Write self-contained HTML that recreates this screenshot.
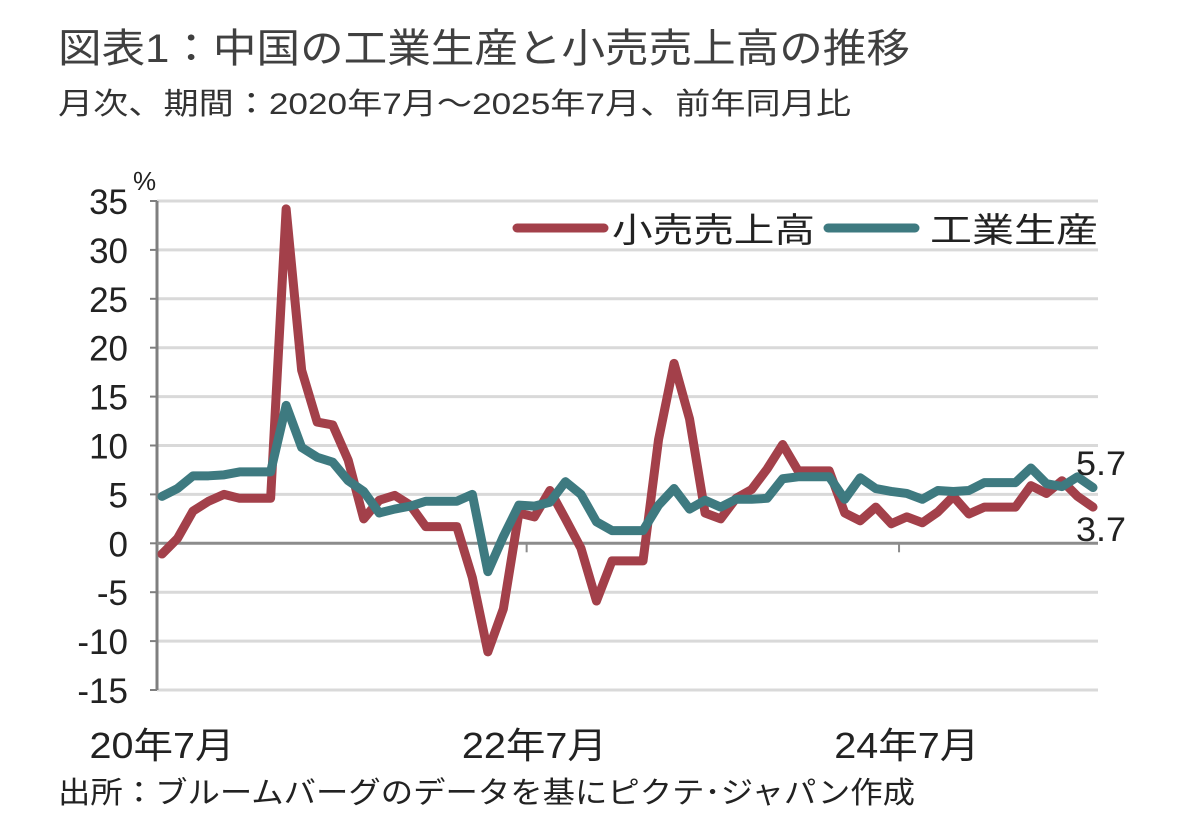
<!DOCTYPE html>
<html><head><meta charset="utf-8"><style>
html,body{margin:0;padding:0;background:#fff;}
svg{display:block;font-family:"Liberation Sans","Noto Sans CJK JP",sans-serif;}
</style></head><body>
<svg id="chart" width="1182" height="836" viewBox="0 0 1182 836">
<text x="58" y="62" font-size="40" fill="#404040" textLength="852" lengthAdjust="spacingAndGlyphs">図表1：中国の工業生産と小売売上高の推移</text>
<text x="58" y="114" font-size="30" fill="#333" textLength="793" lengthAdjust="spacingAndGlyphs">月次、期間：2020年7月～2025年7月、前年同月比</text>
<text x="133" y="190" font-size="26" fill="#222">%</text>
<g id="grid"></g>
<g id="axes"></g>
<g id="series"></g>
<g>
<line x1="517" y1="228" x2="604" y2="228" stroke="#a3404a" stroke-width="9" stroke-linecap="round"/>
<text x="612" y="242" font-size="34" fill="#222" textLength="203" lengthAdjust="spacingAndGlyphs">小売売上高</text>
<line x1="828" y1="228" x2="915" y2="228" stroke="#3e7a80" stroke-width="9" stroke-linecap="round"/>
<text x="930" y="242" font-size="34" fill="#222" textLength="168" lengthAdjust="spacingAndGlyphs">工業生産</text>
</g>
<text x="1076" y="475" font-size="34" fill="#222" textLength="50" lengthAdjust="spacingAndGlyphs">5.7</text>
<text x="1076" y="541" font-size="34" fill="#222" textLength="50" lengthAdjust="spacingAndGlyphs">3.7</text>
<text x="58" y="803" font-size="30" fill="#222" textLength="857" lengthAdjust="spacingAndGlyphs">出所：ブルームバーグのデータを基にピクテ･ジャパン作成</text>
</svg>
<script>
const yTicks = [35,30,25,20,15,10,5,0,-5,-10,-15];
const xLabels = ["20年7月","22年7月","24年7月"];
const xLabelIdx = [0,24,48];
const retail = [-1.1,0.5,3.3,4.3,5.0,4.6,4.6,4.6,34.2,17.7,12.4,12.1,8.5,2.5,4.4,4.9,3.9,1.7,1.7,1.7,-3.5,-11.1,-6.7,3.1,2.7,5.4,2.5,-0.5,-5.9,-1.8,-1.8,-1.8,10.6,18.4,12.7,3.1,2.5,4.6,5.5,7.6,10.1,7.4,7.4,7.4,3.1,2.3,3.7,2.0,2.7,2.1,3.2,4.8,3.0,3.7,3.7,3.7,5.9,5.1,6.4,4.8,3.7];
const ip = [4.8,5.6,6.9,6.9,7.0,7.3,7.3,7.3,14.1,9.8,8.8,8.3,6.4,5.3,3.1,3.5,3.8,4.3,4.3,4.3,5.0,-2.9,0.7,3.9,3.8,4.2,6.3,5.0,2.2,1.3,1.3,1.3,3.9,5.6,3.5,4.4,3.7,4.5,4.5,4.6,6.6,6.8,6.8,6.8,4.5,6.7,5.6,5.3,5.1,4.5,5.4,5.3,5.4,6.2,6.2,6.2,7.7,6.1,5.8,6.8,5.7];
const NS="http://www.w3.org/2000/svg";
const X0=162,X1=1093,Y35=201,Yn15=690,L=157,R=1098;
const n=retail.length;
function xs(i){return X0+i*(X1-X0)/(n-1);}
function ys(v){return Y35+(35-v)*(Yn15-Y35)/50;}
function mk(t,a){const e=document.createElementNS(NS,t);for(const k in a)e.setAttribute(k,a[k]);return e;}
const grid=document.getElementById('grid'),axes=document.getElementById('axes'),ser=document.getElementById('series');
yTicks.forEach(v=>{
  const y=ys(v);
  if(v!==0){const g=mk('line',{x1:L,x2:R,y1:y,y2:y,stroke:'#d9d9d9','stroke-width':3});
  
  
  grid.appendChild(g);}
  const tk=mk('line',{x1:L-7,x2:L,y1:y,y2:y,stroke:'#7f7f7f','stroke-width':2});
  
  
  axes.appendChild(tk);
  const t=mk('text',{x:128,y:y+13,'font-size':35,fill:'#222','text-anchor':'end'});
  
  
  t.textContent=String(v);
  axes.appendChild(t);
});
const ya=mk('line',{x1:L,x2:L,y1:Y35,y2:Yn15,stroke:'#7f7f7f','stroke-width':3});


axes.appendChild(ya);
const zl=mk('line',{x1:L,x2:R,y1:ys(0),y2:ys(0),stroke:'#8c8c8c','stroke-width':3});


axes.appendChild(zl);
[23.5,47.5].forEach(k=>{
  const tk=mk('line',{x1:xs(k),x2:xs(k),y1:ys(0),y2:ys(0)+9,stroke:'#8c8c8c','stroke-width':2});
  
  
  axes.appendChild(tk);
});
xLabels.forEach((s,i)=>{
  const t=mk('text',{x:xs(xLabelIdx[i]),y:758,'font-size':36,fill:'#222','text-anchor':'middle',textLength:145,lengthAdjust:'spacingAndGlyphs'});
  
  
  t.textContent=s;
  axes.appendChild(t);
});
function line(d,c,name){
  const p=mk('polyline',{points:d.map((v,i)=>xs(i)+','+ys(v)).join(' '),fill:'none',stroke:c,'stroke-width':9,'stroke-linejoin':'round','stroke-linecap':'round'});
  
  
  ser.appendChild(p);
}
line(retail,'#a3404a','retail-sales-line');
line(ip,'#3e7a80','industrial-production-line');
</script>
</body></html>
